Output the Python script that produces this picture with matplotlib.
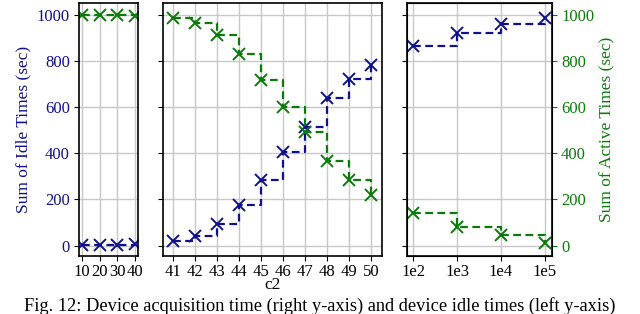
import matplotlib.pyplot as plt

plt.rcParams['font.family'] = ['Liberation Serif', 'DejaVu Serif']

BLUE = '#10108f'
GREEN = '#0a7a0a'

# panel 1: c2 = 10..40
x_a = [10, 20, 30, 40]
idle_a = [1, 2, 2, 5]
active_a = [998, 997, 996, 994]

# panel 2: c2 = 41..50
x_b = [41, 42, 43, 44, 45, 46, 47, 48, 49, 50]
idle_b = [21, 43, 94, 175, 286, 406, 513, 637, 722, 782]
active_b = [983, 962, 910, 829, 718, 598, 491, 368, 282, 218]

# panel 3: c2 = 1e2..1e5
labels_c = ['1e2', '1e3', '1e4', '1e5']
idle_c = [864, 922, 957, 986]
active_c = [141, 80, 46, 13]

W, H = 640, 314
fig = plt.figure(figsize=(W / 100, H / 100), dpi=100)


def make_ax(x0, x1, y0=3, y1=256):
    return fig.add_axes([x0 / W, 1 - y1 / H, (x1 - x0) / W, (y1 - y0) / H])


def draw(ax, x, idle, active):
    ax.plot(x, idle, color=BLUE, ls=(0, (3.5, 2)), lw=1.6, marker='x', ms=8,
            mew=1.4, drawstyle='steps-post')
    ax.plot(x, active, color=GREEN, ls=(0, (3.5, 2)), lw=1.6, marker='x', ms=8,
            mew=1.4, drawstyle='steps-post')
    ax.set_ylim(-45, 1050)
    ax.set_yticks([0, 200, 400, 600, 800, 1000])
    ax.grid(True, color='#c8c8c8', lw=1)
    ax.set_axisbelow(True)
    ax.tick_params(labelsize=12, pad=3)
    ax.tick_params(axis='x', pad=2)
    for s in ax.spines.values():
        s.set_linewidth(1.2)


ax1 = make_ax(79, 138)
draw(ax1, x_a, idle_a, active_a)
ax1.set_xlim(8.3, 41.7)
ax1.set_xticks(x_a)
ax1.tick_params(axis='y', labelcolor=BLUE)
ax1.set_ylabel('Sum of Idle Times (sec)', color=BLUE, fontsize=12.5)

ax2 = make_ax(163, 382)
draw(ax2, x_b, idle_b, active_b)
ax2.set_xlim(40.56, 50.5)
ax2.set_xticks(x_b)
ax2.set_yticklabels([])
ax2.set_xlabel('c2', fontsize=12.5, labelpad=-2)

ax3 = make_ax(407, 552)
draw(ax3, range(len(labels_c)), idle_c, active_c)
ax3.set_xlim(-0.14, 3.16)
ax3.set_xticks(range(len(labels_c)))
ax3.set_xticklabels(labels_c)
ax3.set_yticklabels([])
ax3r = ax3.twinx()
ax3r.set_ylim(ax3.get_ylim())
ax3r.set_yticks([0, 200, 400, 600, 800, 1000])
ax3r.tick_params(axis='y', colors=GREEN, labelsize=12, pad=3)
ax3r.set_ylabel('Sum of Active Times (sec)', color=GREEN, fontsize=12.5)

fig.text(0.5, 1 - 310.5 / H,
         'Fig. 12: Device acquisition time (right y-axis) and device idle times (left y-axis)',
         fontsize=13.2, va='baseline', ha='center')

fig.savefig('out.png', dpi=100)
